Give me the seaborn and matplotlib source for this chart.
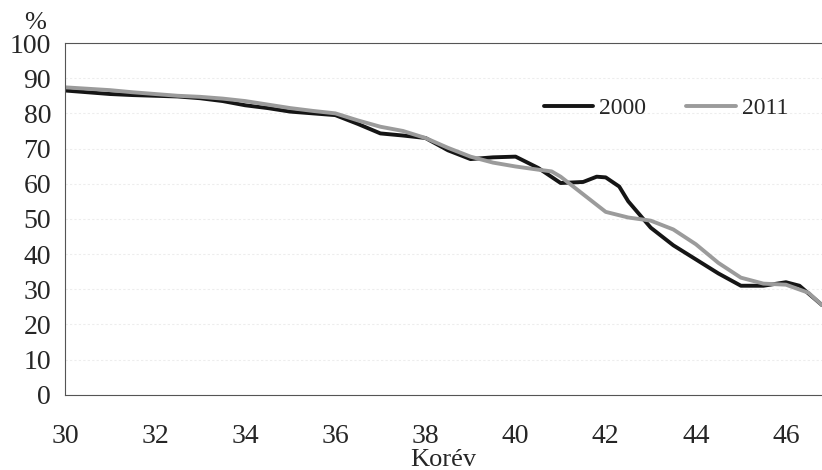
import matplotlib
matplotlib.use("Agg")
import matplotlib.pyplot as plt
import seaborn as sns
import pandas as pd
from matplotlib.ticker import MultipleLocator

# Values
ages_2000 = [30, 30.5, 31, 31.5, 32, 32.5, 33, 33.5, 34, 34.5, 35, 35.5, 36, 36.5, 37,
             37.5, 38, 38.5, 39, 39.5, 40, 40.5, 41, 41.5, 41.8, 42, 42.3, 42.5, 43,
             43.5, 44, 44.5, 45, 45.5, 46, 46.3, 46.8]
pct_2000 = [86.5, 86, 85.5, 85.2, 85, 84.8, 84.3, 83.5, 82.3, 81.5, 80.5, 80, 79.5, 77, 74.3,
            73.7, 73, 69.5, 67, 67.5, 67.7, 64.5, 60.2, 60.5, 62, 61.8, 59.2, 55, 47.5,
            42.5, 38.5, 34.5, 31, 31, 32, 31, 25.5]

ages_2011 = [30, 30.5, 31, 31.5, 32, 32.5, 33, 33.5, 34, 34.5, 35, 35.5, 36, 36.5, 37,
             37.5, 38, 38.5, 39, 39.5, 40, 40.5, 40.8, 41, 41.5, 42, 42.5, 43, 43.5,
             44, 44.5, 45, 45.5, 46, 46.5, 46.8]
pct_2011 = [87.4, 87, 86.6, 86, 85.5, 85, 84.7, 84.2, 83.5, 82.5, 81.5, 80.7, 80, 78, 76.2,
            75, 73, 70.2, 67.7, 66, 64.9, 64, 63.5, 62, 57, 52, 50.4, 49.5, 47,
            42.8, 37.5, 33.3, 31.6, 31.3, 29, 25.5]

years = ["2000", "2011"]
colors = {"2000": "#151515", "2011": "#9b9b9b"}

df = pd.concat([
    pd.DataFrame({"age": ages_2000, "pct": pct_2000, "year": "2000"}),
    pd.DataFrame({"age": ages_2011, "pct": pct_2011, "year": "2011"}),
])

sns.set_style("white")
plt.rcParams["font.family"] = ["Liberation Serif", "DejaVu Serif"]

fig = plt.figure(figsize=(8.22, 4.70), dpi=100)
ax = fig.add_axes([0.079, 0.16, 0.921, 0.7485])

sns.lineplot(data=df, x="age", y="pct", hue="year", hue_order=years,
             palette=colors, linewidth=2.8, sort=False, ax=ax)
for ln in ax.lines:
    ln.set_solid_joinstyle("round")
    ln.set_solid_capstyle("round")

ax.set_xlim(30, 46.8)
ax.set_ylim(0, 100)
ax.yaxis.set_major_locator(MultipleLocator(10))
ax.xaxis.set_major_locator(MultipleLocator(2))
ax.xaxis.set_minor_locator(MultipleLocator(1))
ax.grid(axis="y", color="#ededed", linewidth=0.8, linestyle=(0, (2, 2)))

for side in ["left", "bottom", "top"]:
    ax.spines[side].set_color("#555555")
    ax.spines[side].set_linewidth(0.8)
ax.spines["right"].set_visible(False)

ax.tick_params(axis="both", which="both", direction="out", color="#555555",
               labelsize=20, length=5, width=0.8)
ax.tick_params(axis="x", which="both", length=6, pad=15)
ax.tick_params(axis="y", pad=5)

ax.set_xlabel("Korév", fontsize=19, labelpad=0)
ax.set_ylabel("")
ax.text(-0.04, 1.025, "%", transform=ax.transAxes, fontsize=19, ha="center", va="bottom")

ax.legend(title=None, frameon=False, ncol=2, fontsize=17, handlelength=2.1,
          handletextpad=0.25, columnspacing=1.7,
          loc="center", bbox_to_anchor=(0.794, 0.815))

fig.savefig("out.png", dpi=100)
